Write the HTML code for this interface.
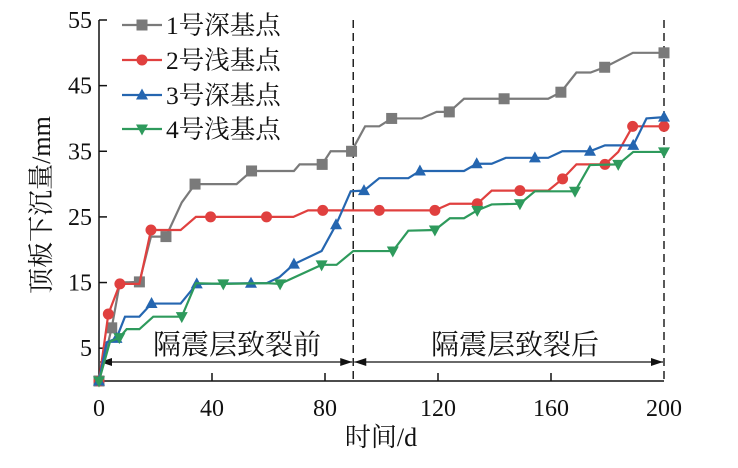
<!DOCTYPE html>
<html><head><meta charset="utf-8"><style>
html,body{margin:0;padding:0;background:#fff;}
svg{display:block;}
text{font-family:"Liberation Serif","Noto Serif CJK SC","Noto Sans CJK SC",serif;fill:#111;}
</style></head><body>
<svg id="chart" width="738" height="468" viewBox="0 0 738 468" xmlns="http://www.w3.org/2000/svg"></svg>
<script>
const seriesNames = ['1号深基点','2号浅基点','3号深基点','4号浅基点'];
const seriesColors = ['#7a7a7a','#e0403f','#2566b0','#2e9a5c'];
const seriesMarkers = ['square','circle','up','down'];
const xTicks = [0,40,80,120,160,200];
const yTicks = [5,15,25,35,45,55];
// each point: [day, settlement(mm), markerFlag]
const s1 = [[0,0,1],[4.5,8.1,1],[7.4,15,0],[14.3,15.1,1],[18.4,22,0],[23.7,22,1],[29.3,27.2,0],[34,30,1],[48.7,30,0],[54,32,1],[69,32,0],[71,33,0],[79,33,1],[82,35,0],[89.4,35,1],[94.2,38.8,0],[99.2,38.8,0],[103.6,40,1],[114.2,40,0],[119.5,41,0],[124,41,1],[129.2,43,0],[143.4,43,1],[159,43,0],[163.5,44,1],[169,47,0],[174,47,0],[179,47.8,1],[189,50,0],[200,50,1]];
const s2 = [[0,0,1],[3.3,10.2,1],[7.4,14.8,1],[14.3,14.8,0],[18.4,23,1],[28.9,23,0],[34.3,25,0],[39.5,25,1],[59.3,25,1],[68.8,25,0],[74,26,0],[79.2,26,1],[99.2,26,1],[118.9,26,1],[124.2,27,0],[133.9,27,1],[139,29,0],[149,29,1],[159,29,0],[164.1,30.8,1],[169,33,0],[179.1,33,1],[183.8,34.9,0],[188.9,38.8,1],[200,38.8,1]];
const s3 = [[0,0,1],[2.7,5.9,0],[6.2,6.5,1],[9.2,9.8,0],[14.3,9.8,0],[18.6,11.8,1],[28.9,11.8,0],[34.6,14.8,1],[53.8,14.9,1],[59.3,14.9,0],[63.8,15.8,0],[69,17.8,1],[78.8,19.8,0],[83.9,23.8,1],[89.1,28.9,0],[93.8,29,1],[99.2,30.9,0],[109.5,30.9,0],[113.6,32,1],[129.2,32,0],[133.7,33.1,1],[139,33.1,0],[144,34,0],[154.3,34,1],[159,34,0],[164,35,0],[173.8,35,1],[179.1,35.9,0],[189.1,35.9,1],[193.8,40,0],[200,40.2,1]];
const s4 = [[0,0,1],[3.9,6,0],[7.2,6.6,1],[9.8,7.9,0],[14.3,7.9,0],[19.2,9.8,0],[29.3,9.8,1],[34.3,14.9,0],[44,14.8,1],[59.3,14.9,0],[64.1,14.8,1],[78.8,17.7,1],[84.1,17.7,0],[90,19.8,0],[104,19.8,1],[109.5,22.9,0],[118.9,23,1],[124.2,24.8,0],[129.2,24.8,0],[133.9,26,1],[139,26.9,0],[149,27,1],[154.3,28.9,0],[168.5,28.9,1],[173.8,32.9,0],[183.8,33,1],[189.1,34.9,0],[200,34.9,1]];
const allSeries = [s1,s2,s3,s4];

const X0=99, X1=664, Y0=381, Y1=20;
const xS = v => X0 + (v/200)*(X1-X0);
const yS = v => Y0 - (v/55)*(Y0-Y1);
const NS='http://www.w3.org/2000/svg';
const svg=document.getElementById('chart');
function mk(tag,attrs,parent){const e=document.createElementNS(NS,tag);for(const k in attrs)e.setAttribute(k,attrs[k]);(parent||svg).appendChild(e);return e;}
function marker(type,x,y,color,g){
  let e;
  if(type==='square') e=mk('rect',{x:x-5.5,y:y-5.5,width:11,height:11,fill:color},g);
  else if(type==='circle') e=mk('circle',{cx:x,cy:y,r:5.5,fill:color},g);
  else if(type==='up') e=mk('polygon',{points:`${x},${y-6.5} ${x-6},${y+4.5} ${x+6},${y+4.5}`,fill:color},g);
  else e=mk('polygon',{points:`${x},${y+6.5} ${x-6},${y-4.5} ${x+6},${y-4.5}`,fill:color},g);
  return e;
}
const ax=mk('path',{d:`M${X0},${Y1} V${Y0} H${X1}`,stroke:'#111','stroke-width':1.5,fill:'none'});


yTicks.forEach(v=>{
  const t=mk('line',{x1:X0,x2:X0+8,y1:yS(v),y2:yS(v),stroke:'#111','stroke-width':1.5});
  
  
  const l=mk('text',{x:X0-7,y:yS(v)+8,'text-anchor':'end','font-size':24});
  l.textContent=v;
  
  
});
xTicks.forEach(v=>{
  if(v>0&&v<200){const t=mk('line',{x1:xS(v),x2:xS(v),y1:Y0,y2:Y0-8,stroke:'#111','stroke-width':1.5});
  
  }
  const l=mk('text',{x:xS(v),y:416,'text-anchor':'middle','font-size':24});
  l.textContent=v;
  
  
});
const xt=mk('text',{x:381,y:446,'text-anchor':'middle','font-size':26});
xt.textContent='时间/d';


const yt=mk('text',{x:0,y:0,'text-anchor':'middle','font-size':26,transform:'translate(50,205) rotate(-90)'});
yt.textContent='顶板下沉量/mm';


[90,200].forEach(v=>{
  const d=mk('line',{x1:xS(v),x2:xS(v),y1:Y1,y2:Y0,stroke:'#222','stroke-width':1.5,'stroke-dasharray':'8,5'});
  
  
});
function arrow(a,b,label,name,cx){
  const g=mk('g',{});
  
  
  const xa=xS(a)+1,xb=xS(b)-1,y=362;
  mk('line',{x1:xa,x2:xb,y1:y,y2:y,stroke:'#111','stroke-width':1.3},g);
  mk('polygon',{points:`${xa},${y} ${xa+12},${y-4} ${xa+12},${y+4}`,fill:'#111'},g);
  mk('polygon',{points:`${xb},${y} ${xb-12},${y-4} ${xb-12},${y+4}`,fill:'#111'},g);
  const t=mk('text',{x:cx,y:354,'text-anchor':'middle','font-size':28},g);
  t.textContent=label;
}
arrow(0,90,'隔震层致裂前','stage-before-arrow',237);
arrow(90,200,'隔震层致裂后','stage-after-arrow',515);
allSeries.forEach((pts,i)=>{
  const g=mk('g',{});
  
  
  mk('polyline',{points:pts.map(p=>xS(p[0])+','+yS(p[1])).join(' '),fill:'none',stroke:seriesColors[i],'stroke-width':2.2},g);
  pts.forEach(p=>{ if(p[2]){ const m=marker(seriesMarkers[i],xS(p[0]),yS(p[1]),seriesColors[i],g);
    
    }});
});
const lg=mk('g',{});


const legendY=[25,60,95,129];
seriesNames.forEach((n,i)=>{
  const g=mk('g',{},lg);
  
  
  const y=legendY[i];
  mk('line',{x1:122,x2:162,y1:y,y2:y,stroke:seriesColors[i],'stroke-width':2.2},g);
  marker(seriesMarkers[i],142,y,seriesColors[i],g);
  const t=mk('text',{x:166,y:y+9,'font-size':25.5},g);
  t.textContent=n;
});
</script>
</body></html>
